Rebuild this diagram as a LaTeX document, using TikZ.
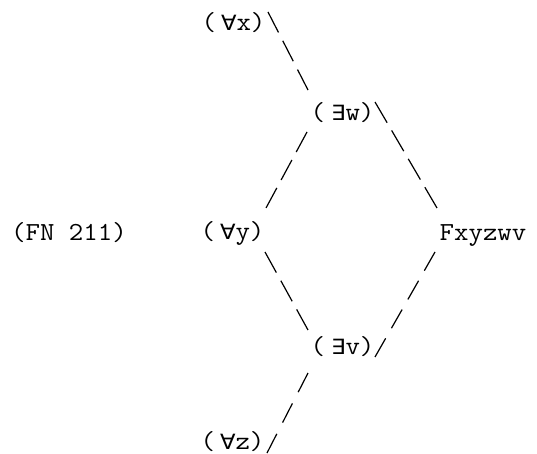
\documentclass[tikz,border=0pt]{standalone}
\usepackage{fontspec}
\usepackage{graphicx}
\newfontfamily\symf{DejaVu Sans}
\usetikzlibrary{calc}
\newcommand\qall{\makebox[19pt][r]{\symf\fontsize{21}{22}\selectfont ∀}}
\newcommand\qex{\makebox[19pt][r]{\symf\fontsize{21}{22}\selectfont ∃}}
\newcommand\wide[1]{\scalebox{1.08}[1]{#1}}
\tikzset{
  lab/.style={inner sep=0pt, anchor=base, font=\ttfamily\fontsize{26}{30}\selectfont},
  conn/.style={line width=1.2pt, black}
}
\begin{document}
\begin{tikzpicture}[x=1pt,y=-1pt]
\useasboundingbox (0,0) rectangle (537,454);
\node[lab] (ax) at (233.5,31) {\wide{(\qall x)}};
\node[lab] (ew) at (342.5,121) {\wide{(\qex w)}};
\node[lab] (fn) at (69,240) {\wide{(FN 211)}};
\node[lab] (ay) at (232.5,239) {\wide{(\qall y)}};
\node[lab] (fx) at (483,240) {\wide{Fxyzwv}};
\node[lab] (ev) at (342.5,354) {\wide{(\qex v)}};
\node[lab] (az) at (232.5,449) {\wide{(\qall z)}};
\draw[conn, dash pattern={on 23pt off 9.33pt}] ($(ax.base)+(34.5,-19)$) -- ($(ew.base)+(-34.5,-31)$);
\draw[conn, dash pattern={on 22.7pt off 9.1pt}] ($(ew.base)+(-35.5,11)$) -- ($(ay.base)+(33.5,-31)$);
\draw[conn, dash pattern={on 24pt off 8.93pt}] ($(ew.base)+(32.5,-19)$) -- ($(fx.base)+(-46,-32)$);
\draw[conn, dash pattern={on 23.5pt off 9.28pt}] ($(ay.base)+(32.5,13)$) -- ($(ev.base)+(-34.5,-24)$);
\draw[conn, dash pattern={on 21.5pt off 11.64pt}] ($(fx.base)+(-48,12)$) -- ($(ev.base)+(32.5,3)$);
\draw[conn, dash pattern={on 21.5pt off 12.7pt}] ($(ev.base)+(-34.5,19)$) -- ($(az.base)+(34.5,4)$);
\end{tikzpicture}
\end{document}
